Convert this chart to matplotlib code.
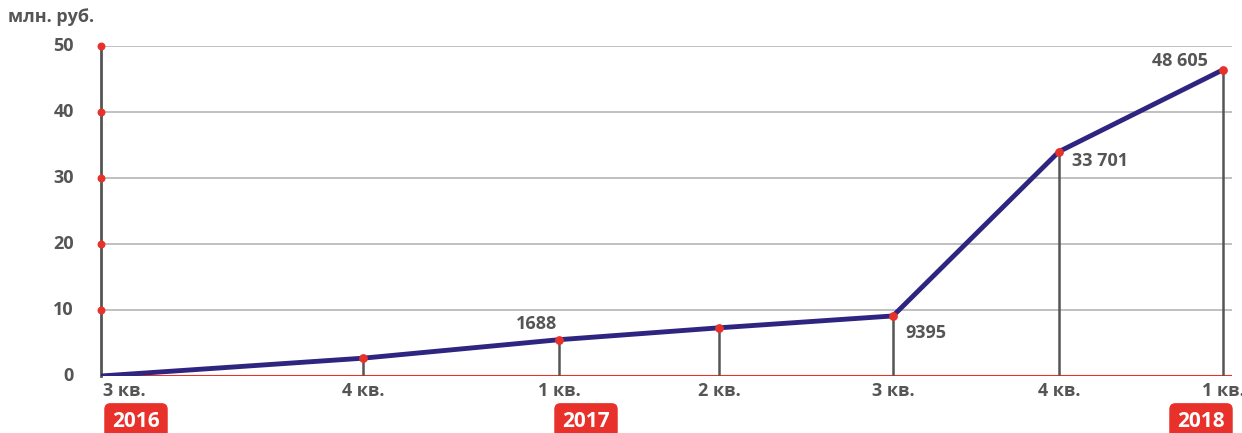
import numpy as np
import matplotlib.pyplot as plt

# данные
quarters = ["3 кв.", "4 кв.", "1 кв.", "2 кв.", "3 кв.", "4 кв.", "1 кв."]
quarter_pos = [0, 2.62, 4.58, 6.18, 7.92, 9.58, 11.22]
values = [0, 2.7, 5.5, 7.3, 9.1, 34.0, 46.4]
point_labels = ["", "", "1688", "", "9395", "33 701", "48 605"]
years = ["2016", "2017", "2018"]
year_idx = [0, 2, 6]
yticks = [0, 10, 20, 30, 40, 50]

GRAY = "#555555"
RED = "#e8312a"
NAVY = "#2e2580"

plt.rcParams['font.family'] = ['Open Sans', 'DejaVu Sans']

fig = plt.figure(figsize=(12.42, 4.33), dpi=100)
ax = fig.add_axes([101/1242, 57/433, 1131/1242, 330/433])
ax.set_xlim(0, 11.31)
ax.set_ylim(0, 50)
ax.axis('off')

# сетка
for t in yticks[1:]:
    ax.axhline(t, color="#b5b5b5", lw=1.2, zorder=1)
    ax.text(-0.27, t, str(t), ha='right', va='center', fontsize=13,
            fontweight='bold', color=GRAY)
ax.text(-0.27, 0, "0", ha='right', va='center', fontsize=13,
        fontweight='bold', color=GRAY)
ax.axhline(0, color=RED, lw=1.5, zorder=2)
ax.plot([0, 0], [0, 50], color=GRAY, lw=2, zorder=2, clip_on=False)
ax.scatter([0]*5, yticks[1:], color=RED, s=22, zorder=4, clip_on=False)

# стойки
for x, v in zip(quarter_pos, values):
    ax.plot([x, x], [0, v], color=GRAY, lw=1.8, zorder=2)

ax.plot(quarter_pos, values, color=NAVY, lw=3.5, zorder=3, solid_capstyle='round')
ax.scatter(quarter_pos[1:], values[1:], color=RED, s=28, zorder=4)

# подписи значений
offs = {2: (-0.22, 2.4, 'center'), 4: (0.12, -2.6, 'left'),
        5: (0.13, -1.4, 'left'), 6: (-0.15, 1.4, 'right')}
for i, lab in enumerate(point_labels):
    if lab:
        dx, dy, ha = offs[i]
        ax.text(quarter_pos[i] + dx, values[i] + dy, lab, ha=ha, va='center',
                fontsize=13, fontweight='bold', color=GRAY)

# подписи кварталов
for i, (x, q) in enumerate(zip(quarter_pos, quarters)):
    ha = 'left' if i == 0 else 'center'
    ax.text(x + (0.02 if i == 0 else 0), -2.2, q, ha=ha, va='center',
            fontsize=13, fontweight='bold', color=GRAY, clip_on=False)

# годы
year_dx = [0.35, 0.27, -0.22]
for y, i, dx in zip(years, year_idx, year_dx):
    ax.text(quarter_pos[i] + dx, -6.9, y, ha='center', va='center', fontsize=15,
            fontweight='bold', color='white', clip_on=False,
            bbox=dict(boxstyle='round,pad=0.38,rounding_size=0.3', fc=RED, ec='none'))

fig.text(8/1242, 1 - 17/433, "млн. руб.", ha='left', va='center', fontsize=13,
         fontweight='bold', color=GRAY)

fig.savefig("out.png", dpi=100, facecolor='white')
